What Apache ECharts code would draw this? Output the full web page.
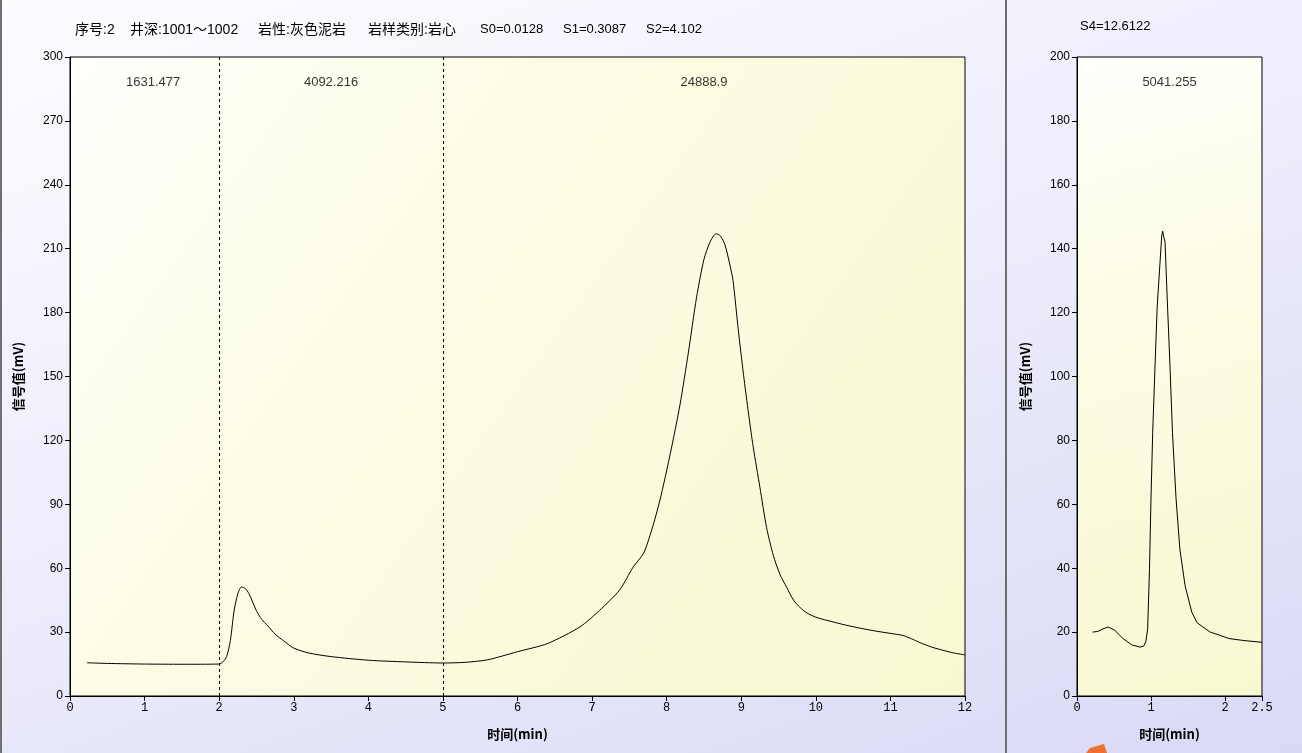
<!DOCTYPE html>
<html>
<head>
<meta charset="utf-8">
<script src="https://cdn.jsdelivr.net/npm/echarts@6/dist/echarts.min.js"></script>
<style>
html,body{margin:0;padding:0;width:1302px;height:753px;overflow:hidden;}
body{background:linear-gradient(160deg,#fcfcff 0%,#eeeefc 45%,#d9d9f6 100%);}
#edge{position:absolute;left:0;top:0;width:2px;height:753px;background:#707070;}
#sep{position:absolute;left:1005px;top:0;width:2px;height:753px;background:#6e6e6e;}
#chart{position:absolute;left:0;top:0;width:1302px;height:753px;}
</style>
</head>
<body>
<div id="edge"></div>
<div id="sep"></div>
<div id="chart"></div>
<script>
// ---- data ----
const titleParts = ['序号:2', '井深:1001～1002', '岩性:灰色泥岩', '岩样类别:岩心', 'S0=0.0128', 'S1=0.3087', 'S2=4.102'];
const titleRight = 'S4=12.6122';
const xName = '时间(min)';
const yName = '信号值(mV)';

const leftX = [0.23,0.5,1.0,1.5,2.0,2.05,2.1,2.15,2.2,2.25,2.3,2.35,2.4,2.5,2.57,2.65,2.75,2.86,3.0,3.2,3.5,4.0,4.5,5.0,5.3,5.6,6.0,6.4,6.84,7.1,7.37,7.55,7.69,7.8,7.91,8.05,8.18,8.29,8.40,8.50,8.58,8.66,8.72,8.78,8.85,8.89,8.96,9.03,9.1,9.16,9.25,9.34,9.43,9.52,9.61,9.70,9.79,9.88,10.0,10.15,10.4,10.6,10.8,11.0,11.17,11.3,11.4,11.55,11.7,11.85,12.0];
const leftY = [15.6,15.3,15.0,14.9,15.0,16.0,18.5,26,40,48,51.2,50.5,48,40,36,33,29,26,22.5,20.2,18.5,16.8,16.0,15.5,15.8,17.0,20.8,24.6,32.5,40.2,49.8,60.5,67,78,92,114,137,161,187,205,213,217,216,212,202,195,172,151,132,117,98,79,66,57,51,45,41.5,39,37,35.5,33.3,31.8,30.5,29.4,28.4,26.6,25,23,21.5,20.2,19.3];

const rightX = [0.21,0.28,0.35,0.42,0.51,0.62,0.74,0.85,0.9,0.93,0.955,0.98,1.0,1.023,1.054,1.084,1.12,1.145,1.158,1.17,1.19,1.22,1.257,1.29,1.338,1.39,1.46,1.55,1.62,1.70,1.8,1.93,2.05,2.24,2.5];
const rightY = [20,20.2,21,21.6,20.6,18,16,15.3,15.6,17,21,40,62,82.5,103,122,135,144,145.5,144,142,124,103,82.5,62,46,34.6,26.3,23,21.6,20,19,18,17.4,16.8];

const splitLines = [2, 5];
const areaLabels = ['1631.477', '4092.216', '24888.9'];
const areaLabelX = [1.115, 3.5, 8.5];
const areaLabelY = 288;
const rightLabels = ['5041.255'];
const rightLabelX = [1.25];
const rightLabelY = 192;

// ---- layout (text placement only) ----
const titlePartLeft = [75, 130, 258, 368, 480, 563, 646];

// ---- chart ----
const chart = echarts.init(document.getElementById('chart'));
const plotBg = new echarts.graphic.LinearGradient(0, 0, 1, 1, [
  {offset: 0, color: '#fffffc'},
  {offset: 0.35, color: '#fcfce6'},
  {offset: 1, color: '#f8f8d0'}
]);
const labelFont = {fontFamily: 'Liberation Sans, Arial, sans-serif', fontSize: 12, color: '#000'};
const xLabelFont = {fontFamily: 'Liberation Mono, monospace', fontSize: 12, color: '#000'};
const nameFont = {fontFamily: 'Noto Sans CJK SC, sans-serif', fontSize: 13, fontWeight: 'bold', color: '#000'};

function xAxis(idx, max, interval) {
  return {
    type: 'value', gridIndex: idx, min: 0, max: max, interval: interval,
    name: xName, nameLocation: 'middle', nameGap: 32, nameTextStyle: nameFont,
    axisLine: {show: true, onZero: false, lineStyle: {color: '#000', width: 1}},
    axisTick: {show: true, inside: false, length: 5, lineStyle: {color: '#000'}},
    axisLabel: Object.assign({margin: 6, showMaxLabel: true, showMinLabel: true}, xLabelFont),
    splitLine: {show: false}
  };
}
function yAxis(idx, max, interval) {
  return {
    type: 'value', gridIndex: idx, min: 0, max: max, interval: interval,
    name: yName, nameLocation: 'middle', nameGap: 45, nameTextStyle: nameFont,
    axisLine: {show: true, lineStyle: {color: '#000', width: 1}},
    axisTick: {show: true, inside: false, length: 5, lineStyle: {color: '#000'}},
    axisLabel: Object.assign({margin: 7}, labelFont),
    splitLine: {show: false}
  };
}

const titleGraphics = titleParts.map((t, i) => ({
  type: 'text', left: titlePartLeft[i], top: 23, silent: true,
  style: {text: t, fill: '#000',
    font: (i < 4 ? '14px' : '13px') + ' "Liberation Sans", "Noto Sans CJK SC", sans-serif'}
}));

chart.setOption({
  animation: false,
  backgroundColor: 'transparent',
  title: [
    {text: titleRight, left: 1080, top: 20, padding: 0,
     textStyle: {fontFamily: 'Liberation Sans, Arial, sans-serif', fontSize: 13, fontWeight: 'normal', color: '#000'}}
  ],
  grid: [
    {left: 70, top: 57, right: 337, bottom: 57, show: true, borderColor: '#000', borderWidth: 1, backgroundColor: plotBg},
    {left: 1077, top: 57, right: 40, bottom: 57, show: true, borderColor: '#000', borderWidth: 1, backgroundColor: plotBg}
  ],
  xAxis: [xAxis(0, 12, 1), xAxis(1, 2.5, 1)],
  yAxis: [yAxis(0, 300, 30), yAxis(1, 200, 20)],
  series: [
    {
      type: 'line', xAxisIndex: 0, yAxisIndex: 0, showSymbol: false, smooth: 0.25,
      lineStyle: {color: '#000', width: 1},
      data: leftX.map((x, i) => [x, leftY[i]]),
      markLine: {
        silent: true, symbol: 'none', label: {show: false},
        lineStyle: {color: '#000', type: [3, 3], width: 1},
        data: splitLines.map(v => ({xAxis: v}))
      }
    },
    {
      type: 'line', xAxisIndex: 1, yAxisIndex: 1, showSymbol: false, smooth: false,
      lineStyle: {color: '#000', width: 1},
      data: rightX.map((x, i) => [x, rightY[i]])
    },
    {
      type: 'scatter', xAxisIndex: 0, yAxisIndex: 0, symbolSize: 0, silent: true,
      label: {show: true, position: 'inside', formatter: p => p.data[2],
        fontFamily: 'Liberation Sans, Arial, sans-serif', fontSize: 13, color: '#000'},
      data: areaLabels.map((t, i) => [areaLabelX[i], areaLabelY, t])
    },
    {
      type: 'scatter', xAxisIndex: 1, yAxisIndex: 1, symbolSize: 0, silent: true,
      label: {show: true, position: 'inside', formatter: p => p.data[2],
        fontFamily: 'Liberation Sans, Arial, sans-serif', fontSize: 13, color: '#000'},
      data: rightLabels.map((t, i) => [rightLabelX[i], rightLabelY, t])
    }
  ],
  graphic: titleGraphics.concat([
    {type: 'polygon', shape: {points: [[1086, 753], [1090, 748], [1104, 744], [1107, 753]]},
     style: {fill: '#f07030'}, silent: true}
  ])
});
</script>
</body>
</html>
